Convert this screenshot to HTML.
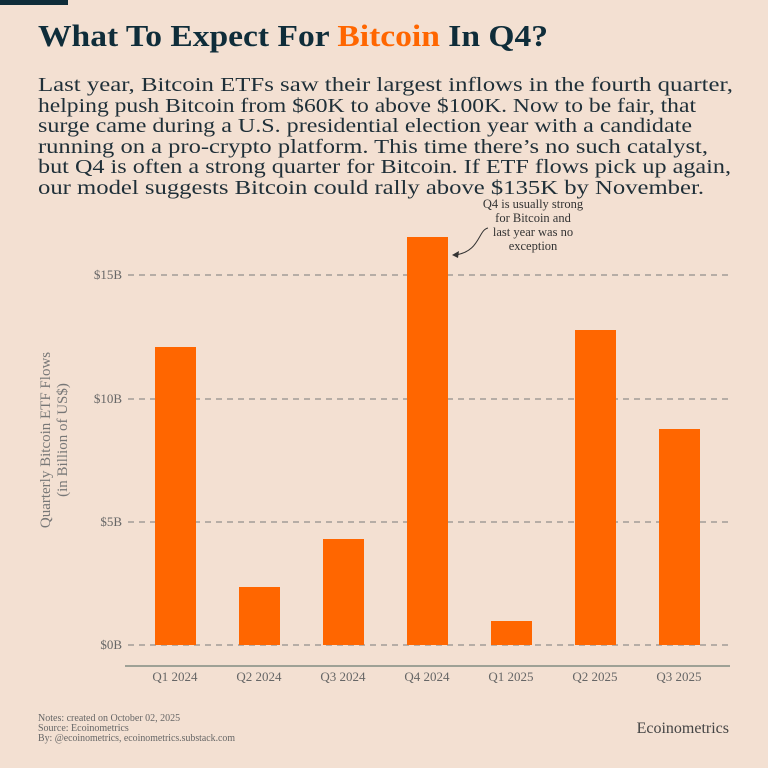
<!DOCTYPE html>
<html><head><meta charset="utf-8"><style>
body{margin:0;width:768px;height:768px;background:#f3e0d2;font-family:"Liberation Serif",serif;overflow:hidden}
</style></head><body>
<svg width="768" height="768" xmlns="http://www.w3.org/2000/svg" style="position:absolute;left:0;top:0" font-family="Liberation Serif, serif">
<rect x="0" y="0" width="68" height="5" fill="#0f2d3a"/>
<text x="38" y="46" font-size="31" font-weight="bold" fill="#0f2d3a" textLength="510" lengthAdjust="spacingAndGlyphs">What To Expect For <tspan fill="#ff6600">Bitcoin</tspan> In Q4?</text>
<g font-size="20.5" fill="#1f2f38">
<text x="38" y="91" textLength="695" lengthAdjust="spacingAndGlyphs">Last year, Bitcoin ETFs saw their largest inflows in the fourth quarter,</text>
<text x="38" y="112" textLength="658" lengthAdjust="spacingAndGlyphs">helping push Bitcoin from $60K to above $100K. Now to be fair, that</text>
<text x="38" y="132" textLength="654" lengthAdjust="spacingAndGlyphs">surge came during a U.S. presidential election year with a candidate</text>
<text x="38" y="153" textLength="670" lengthAdjust="spacingAndGlyphs">running on a pro-crypto platform. This time there’s no such catalyst,</text>
<text x="38" y="173" textLength="693" lengthAdjust="spacingAndGlyphs">but Q4 is often a strong quarter for Bitcoin. If ETF flows pick up again,</text>
<text x="38" y="194" textLength="666" lengthAdjust="spacingAndGlyphs">our model suggests Bitcoin could rally above $135K by November.</text>
</g>
<g stroke="#7a7a7a" stroke-dasharray="6,5" stroke-width="1">
<line x1="128" y1="645" x2="728" y2="645"/><line x1="128" y1="522" x2="728" y2="522"/>
<line x1="128" y1="399" x2="728" y2="399"/><line x1="128" y1="275" x2="728" y2="275"/>
</g>
<g font-size="13" fill="#666" text-anchor="end">
<text x="122" y="649">$0B</text><text x="122" y="526">$5B</text><text x="122" y="403">$10B</text><text x="122" y="279">$15B</text>
</g>
<g fill="#ff6600">
<rect x="155" y="347" width="41" height="298"/>
<rect x="239" y="587" width="41" height="58"/>
<rect x="323" y="539" width="41" height="106"/>
<rect x="407" y="237" width="41" height="408"/>
<rect x="491" y="621" width="41" height="24"/>
<rect x="575" y="330" width="41" height="315"/>
<rect x="659" y="429" width="41" height="216"/>
</g>
<line x1="125" y1="666" x2="730" y2="666" stroke="#6b7b73" stroke-width="1.2"/>
<g font-size="13" fill="#666" text-anchor="middle">
<text x="175" y="681">Q1 2024</text><text x="259" y="681">Q2 2024</text><text x="343" y="681">Q3 2024</text>
<text x="427" y="681">Q4 2024</text><text x="511" y="681">Q1 2025</text><text x="595" y="681">Q2 2025</text><text x="679" y="681">Q3 2025</text>
</g>
<g font-size="15" fill="#777" text-anchor="middle" transform="translate(50,440) rotate(-90)">
<text x="0" y="0">Quarterly Bitcoin ETF Flows</text><text x="0" y="17">(in Billion of US$)</text>
</g>
<g font-size="12.5" fill="#333" text-anchor="middle">
<text x="533" y="208">Q4 is usually strong</text><text x="533" y="222">for Bitcoin and</text>
<text x="533" y="236">last year was no</text><text x="533" y="250">exception</text>
</g>
<path d="M488 228 C478 230 480 252 455 255" fill="none" stroke="#333" stroke-width="1"/>
<path d="M452 255 L459 251 L458 258 Z" fill="#333"/>
<g font-size="10" fill="#666">
<text x="38" y="721">Notes: created on October 02, 2025</text>
<text x="38" y="731">Source: Ecoinometrics</text>
<text x="38" y="741" textLength="197" lengthAdjust="spacingAndGlyphs">By: @ecoinometrics, ecoinometrics.substack.com</text>
</g>
<text x="729" y="733" font-size="16" fill="#444" text-anchor="end">Ecoinometrics</text>
</svg>
</body></html>
